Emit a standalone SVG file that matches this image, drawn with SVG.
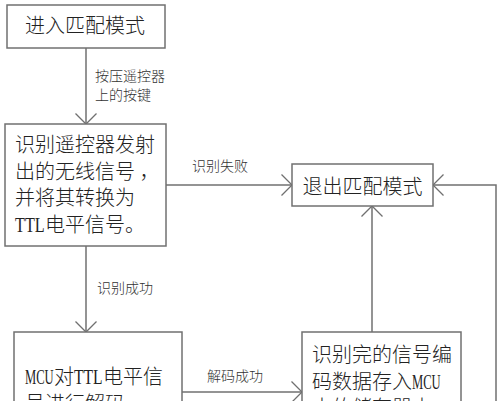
<svg xmlns="http://www.w3.org/2000/svg" width="500" height="401" viewBox="0 0 500 401">
<style>
.box{fill:#fff;stroke:#707070;stroke-width:1.5}
.t{font-family:"Noto Sans CJK SC",sans-serif;font-weight:300;font-size:20px;fill:#222}
.l{font-family:"Liberation Serif",serif;font-size:20px;fill:#222}
.lb{font-family:"Noto Sans CJK SC",sans-serif;font-weight:300;font-size:14px;fill:#333}
.c{fill:none;stroke:#707070;stroke-width:1.5}
</style>
<defs>
<marker id="ah" markerUnits="userSpaceOnUse" viewBox="-12 -12 14 24" refX="0" refY="0" markerWidth="14" markerHeight="24" orient="auto">
<path d="M-10.5,-10.5 L0,0 L-10.5,10.5" fill="none" stroke="#707070" stroke-width="1.3"/>
</marker>
</defs>
<rect width="500" height="401" fill="#fff"/>
<g id="connectors">
<line class="c" x1="86" y1="48" x2="86" y2="124" marker-end="url(#ah)"/>
<line class="c" x1="166" y1="185" x2="292" y2="185" marker-end="url(#ah)"/>
<line class="c" x1="86" y1="246" x2="86" y2="332" marker-end="url(#ah)"/>
<line class="c" x1="182" y1="392" x2="302" y2="392" marker-end="url(#ah)"/>
<line class="c" x1="372" y1="332" x2="372" y2="206" marker-end="url(#ah)"/>
<polyline class="c" points="496,410 496,185 433,185" marker-end="url(#ah)"/>
<text class="lb" x="95" y="80.5">按压遥控器</text>
<text class="lb" x="95" y="99.5">上的按键</text>
<text class="lb" x="192" y="171">识别失败</text>
<text class="lb" x="97" y="293">识别成功</text>
<text class="lb" x="207" y="381">解码成功</text>
</g>
<g id="n1">
<rect class="box" x="7" y="5" width="158" height="43"/>
<text class="t" x="85" y="33" text-anchor="middle">进入匹配模式</text>
</g>
<g id="n2">
<rect class="box" x="5" y="124" width="161" height="122"/>
<text class="t" x="15" y="152">识别遥控器发射</text>
<text class="t" x="15" y="178.5">出的无线信号 ，</text>
<text class="t" x="15" y="205">并将其转换为</text>
<text class="l" transform="translate(15,231.5) scale(0.81,1)">TTL</text>
<text class="t" x="45" y="231.5">电平信号。</text>
</g>
<g id="n3">
<rect class="box" x="292" y="164" width="141" height="42"/>
<text class="t" x="362.5" y="194" text-anchor="middle">退出匹配模式</text>
</g>
<g id="n4">
<rect class="box" x="14" y="332" width="168" height="90"/>
<text class="l" transform="translate(25,384) scale(0.63,1)">MCU</text>
<text class="t" x="54" y="384">对</text>
<text class="l" transform="translate(74,384) scale(0.78,1)">TTL</text>
<text class="t" x="103" y="384">电平信</text>
<text class="t" x="25" y="411">号进行解码</text>
</g>
<g id="n5">
<rect class="box" x="302" y="332" width="159" height="90"/>
<text class="t" x="312" y="362">识别完的信号编</text>
<text class="t" x="312" y="388.5">码数据存入</text>
<text class="l" transform="translate(412,388.5) scale(0.63,1)">MCU</text>
<text class="t" x="312" y="415">中的储存器中</text>
</g>
</svg>
